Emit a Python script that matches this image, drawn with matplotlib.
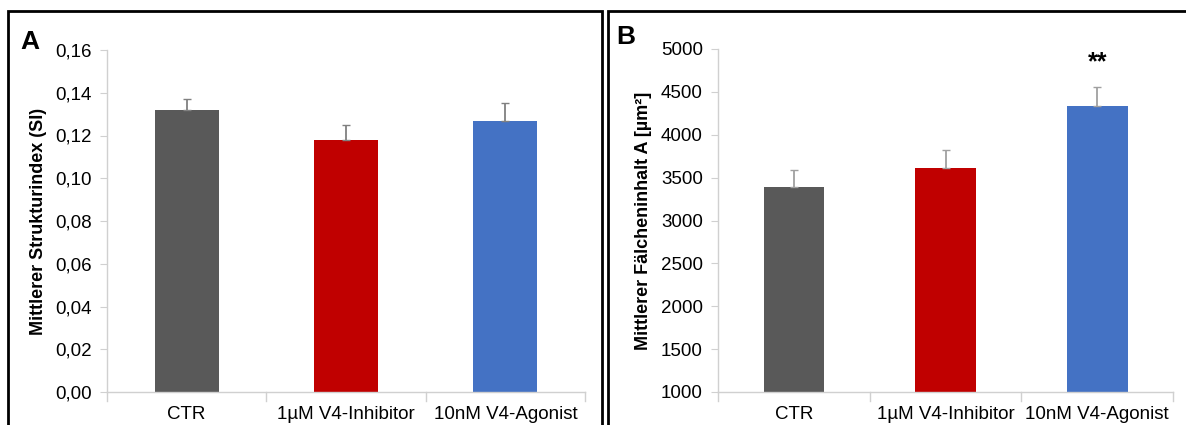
import matplotlib.pyplot as plt
import matplotlib.patches as patches
from matplotlib.ticker import FuncFormatter, MultipleLocator

plt.rcParams['font.family'] = ['Liberation Sans', 'DejaVu Sans']

groups = ['CTR', '1µM V4-Inhibitor', '10nM V4-Agonist']
colors = ['#595959', '#C00000', '#4472C4']

# panel A: Strukturindex
si_mean = [0.132, 0.118, 0.127]
si_err = [0.005, 0.007, 0.008]

# panel B: Fälcheninhalt
area_mean = [3390, 3610, 4340]
area_err = [200, 210, 220]
area_sig = ['', '', '**']

fig = plt.figure(figsize=(11.86, 4.25), dpi=100)

# frames around the panels
fig.add_artist(patches.Rectangle((8 / 1186, -0.1), 594 / 1186, 1 - 11 / 425 + 0.1,
                                 transform=fig.transFigure, fill=False, lw=2, ec='black'))
fig.add_artist(patches.Rectangle((608 / 1186, -0.1), 0.6, 1 - 11 / 425 + 0.1,
                                 transform=fig.transFigure, fill=False, lw=2, ec='black'))

axA = fig.add_axes([107 / 1186, 1 - 392 / 425, 478 / 1186, 342 / 425])
axB = fig.add_axes([718 / 1186, 1 - 392 / 425, 455 / 1186, 343 / 425])


def style(ax):
    for s in ['top', 'right']:
        ax.spines[s].set_visible(False)
    for s in ['left', 'bottom']:
        ax.spines[s].set_color('#d0d0d0')
        ax.spines[s].set_linewidth(1)
    ax.tick_params(axis='y', colors='#d0d0d0', labelcolor='black', labelsize=13.5,
                   length=5, pad=6)
    ax.tick_params(axis='x', length=0, labelsize=13.5, pad=10)
    ax.set_xlim(-0.5, 2.5)
    # separators between categories on the x axis
    for xb in [-0.5, 0.5, 1.5, 2.5]:
        ax.plot([xb, xb], [0, -0.025], transform=ax.get_xaxis_transform(),
                color='#d0d0d0', lw=1, clip_on=False)


x = range(len(groups))

axA.bar(x, si_mean, width=0.4, color=colors)
axA.errorbar(x, si_mean, yerr=[[0, 0, 0], si_err], fmt='none', ecolor='#808080',
             elinewidth=1.3, capsize=3)
axA.set_ylim(0, 0.16)
axA.yaxis.set_major_locator(MultipleLocator(0.02))
axA.yaxis.set_major_formatter(FuncFormatter(lambda v, p: f'{v:.2f}'.replace('.', ',')))
axA.set_xticks(list(x))
axA.set_xticklabels(groups)
axA.set_ylabel('Mittlerer Strukturindex (SI)', fontsize=13, fontweight='bold', labelpad=6)
style(axA)

axB.bar(x, area_mean, width=0.4, color=colors)
axB.errorbar(x, area_mean, yerr=[[0, 0, 0], area_err], fmt='none', ecolor='#a0a0a0',
             elinewidth=1.3, capsize=3)
axB.set_ylim(1000, 5000)
axB.yaxis.set_major_locator(MultipleLocator(500))
axB.set_xticks(list(x))
axB.set_xticklabels(groups)
axB.set_ylabel('Mittlerer Fälcheninhalt A [µm²]', fontsize=13, fontweight='bold', labelpad=6)
for xi, m, e, s in zip(x, area_mean, area_err, area_sig):
    if s:
        axB.text(xi, m + e + 150, s, ha='center', va='bottom', fontsize=18, fontweight='bold')
style(axB)

fig.text(20 / 1186, 1 - 42 / 425, 'A', fontsize=19, fontweight='bold', va='center', ha='left')
fig.text(616 / 1186, 1 - 37 / 425, 'B', fontsize=19, fontweight='bold', va='center', ha='left')

fig.savefig('out.png', dpi=100)
